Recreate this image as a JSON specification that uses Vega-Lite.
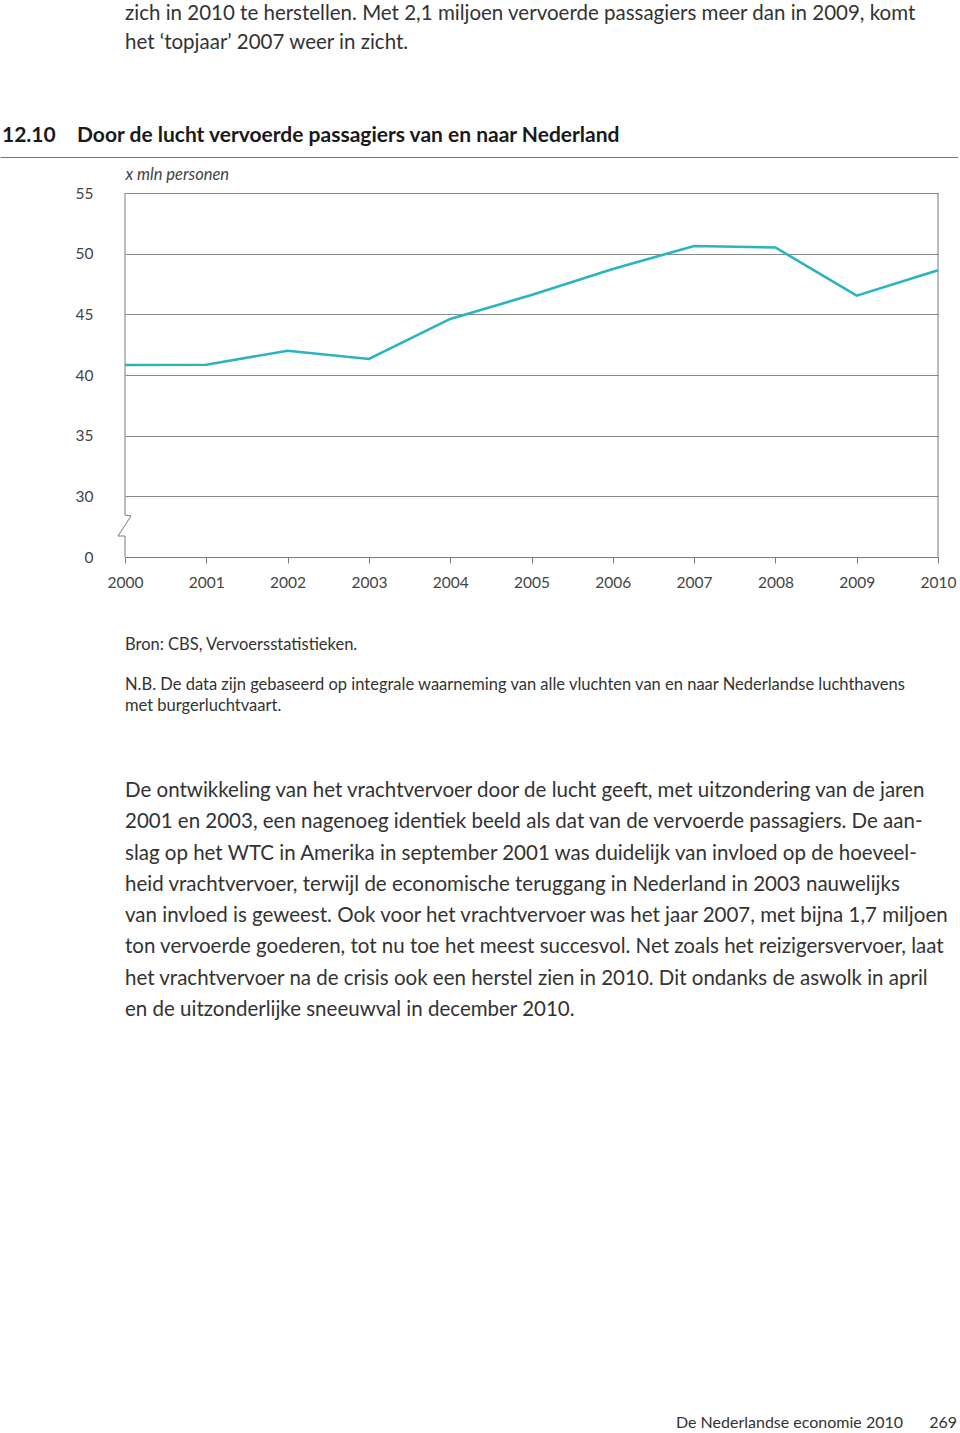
{
  "$schema": "https://vega.github.io/schema/vega-lite/v6.json",
  "background": "white",
  "padding": 0,
  "bounds": "flush",
  "spacing": 0,
  "config": {"view": {"stroke": null}, "font": "Lato"},
  "vconcat": [
    {
      "width": 813,
      "height": 193,
      "layer": [
        {
          "data": {"values": [
            {"line": 1, "text": "zich in 2010 te herstellen. Met 2,1 miljoen vervoerde passagiers meer dan in 2009, komt"},
            {"line": 2, "text": "het ‘topjaar’ 2007 weer in zicht."}
          ]},
          "mark": {"type": "text", "align": "left", "baseline": "alphabetic", "fontSize": 20.5, "color": "#333333", "font": "Lato"},
          "encoding": {
            "x": {"value": 0},
            "y": {"field": "line", "type": "quantitative", "scale": {"domain": [1, 2], "range": [19.5, 49]}, "axis": null},
            "text": {"field": "text"}
          }
        },
        {
          "data": {"values": [{"label": "12.10"}]},
          "mark": {"type": "text", "align": "left", "baseline": "alphabetic", "fontSize": 21, "fontWeight": "bold", "color": "#1a1a1a", "font": "Lato"},
          "encoding": {"x": {"value": -123}, "y": {"value": 142}, "text": {"field": "label"}}
        },
        {
          "data": {"values": [{"label": "Door de lucht vervoerde passagiers van en naar Nederland"}]},
          "mark": {"type": "text", "align": "left", "baseline": "alphabetic", "fontSize": 21, "fontWeight": "bold", "color": "#1a1a1a", "font": "Lato"},
          "encoding": {"x": {"value": -48}, "y": {"value": 142}, "text": {"field": "label"}}
        },
        {
          "data": {"values": [{}]},
          "mark": {"type": "rule", "color": "#777777", "strokeWidth": 1},
          "encoding": {"x": {"value": -124.5}, "x2": {"value": 833}, "y": {"value": 157.5}}
        }
      ]
    },
    {
      "width": 813,
      "height": 364,
      "layer": [
        {
          "data": {"values": [
            {"i": 1, "year": 2000, "passengers": 55},
            {"i": 2, "year": 2000, "passengers": 28.46},
            {"i": 3, "year": 2000.074, "passengers": 28.38},
            {"i": 4, "year": 1999.914, "passengers": 26.73},
            {"i": 5, "year": 2000, "passengers": 26.73},
            {"i": 6, "year": 2000, "passengers": 25}
          ]},
          "mark": {"type": "line", "color": "#7a7a7a", "strokeWidth": 1},
          "encoding": {
            "x": {
              "field": "year", "type": "quantitative",
              "scale": {"domain": [2000, 2010], "nice": false, "zero": false},
              "axis": {
                "title": null, "values": [2000, 2001, 2002, 2003, 2004, 2005, 2006, 2007, 2008, 2009, 2010],
                "format": "d", "grid": false, "domain": true, "domainColor": "#7a7a7a", "domainWidth": 1,
                "ticks": true, "tickColor": "#7a7a7a", "tickSize": 6, "tickWidth": 1,
                "labelFontSize": 15.5, "labelColor": "#444444", "labelPadding": 12, "labelFont": "Lato",
                "labelFlush": false, "labelOverlap": false
              }
            },
            "y": {
              "field": "passengers", "type": "quantitative",
              "scale": {"domain": [25, 55], "nice": false, "zero": false},
              "axis": {
                "title": "x mln personen", "titleAngle": 0, "titleAlign": "left", "titleBaseline": "alphabetic",
                "titleX": 0, "titleY": -14, "titleFontStyle": "italic", "titleFontWeight": "normal",
                "titleFontSize": 16.5, "titleColor": "#444444", "titleFont": "Lato",
                "values": [25, 30, 35, 40, 45, 50, 55],
                "labelExpr": "datum.value == 25 ? '0' : datum.label",
                "grid": true, "gridColor": "#8a8a8a", "gridWidth": 1,
                "domain": false, "ticks": false, "labelPadding": 32,
                "labelFontSize": 15.5, "labelColor": "#444444", "labelFont": "Lato", "labelFlush": false
              }
            },
            "order": {"field": "i", "type": "quantitative"}
          }
        },
        {
          "data": {"values": [{}]},
          "mark": {"type": "rule", "color": "#7a7a7a", "strokeWidth": 1},
          "encoding": {"x": {"datum": 2010}, "y": {"datum": 25}, "y2": {"datum": 55}}
        },
        {
          "data": {"values": [
            {"year": 2000, "passengers": 40.82},
            {"year": 2001, "passengers": 40.85},
            {"year": 2002, "passengers": 42.0},
            {"year": 2003, "passengers": 41.32},
            {"year": 2004, "passengers": 44.62},
            {"year": 2005, "passengers": 46.59},
            {"year": 2006, "passengers": 48.74},
            {"year": 2007, "passengers": 50.63},
            {"year": 2008, "passengers": 50.51},
            {"year": 2009, "passengers": 46.54},
            {"year": 2010, "passengers": 48.63}
          ]},
          "mark": {"type": "line", "color": "#2ab4c0", "strokeWidth": 2.6},
          "encoding": {
            "x": {"field": "year", "type": "quantitative"},
            "y": {"field": "passengers", "type": "quantitative"}
          }
        }
      ]
    },
    {
      "width": 813,
      "height": 160,
      "data": {"values": [
        {"line": 1, "text": "Bron: CBS, Vervoersstatistieken."},
        {"line": 3, "text": "N.B. De data zijn gebaseerd op integrale waarneming van alle vluchten van en naar Nederlandse luchthavens"},
        {"line": 4, "text": "met burgerluchtvaart."}
      ]},
      "mark": {"type": "text", "align": "left", "baseline": "alphabetic", "fontSize": 16.5, "color": "#333333", "font": "Lato"},
      "encoding": {
        "x": {"value": 0},
        "y": {"field": "line", "type": "quantitative", "scale": {"domain": [1, 4], "range": [93, 153.5]}, "axis": null},
        "text": {"field": "text"}
      }
    },
    {
      "width": 813,
      "height": 313,
      "data": {"values": [
        {"line": 1, "text": "De ontwikkeling van het vrachtvervoer door de lucht geeft, met uitzondering van de jaren"},
        {"line": 2, "text": "2001 en 2003, een nagenoeg identiek beeld als dat van de vervoerde passagiers. De aan-"},
        {"line": 3, "text": "slag op het WTC in Amerika in september 2001 was duidelijk van invloed op de hoeveel-"},
        {"line": 4, "text": "heid vrachtvervoer, terwijl de economische teruggang in Nederland in 2003 nauwelijks"},
        {"line": 5, "text": "van invloed is geweest. Ook voor het vrachtvervoer was het jaar 2007, met bijna 1,7 miljoen"},
        {"line": 6, "text": "ton vervoerde goederen, tot nu toe het meest succesvol. Net zoals het reizigersvervoer, laat"},
        {"line": 7, "text": "het vrachtvervoer na de crisis ook een herstel zien in 2010. Dit ondanks de aswolk in april"},
        {"line": 8, "text": "en de uitzonderlijke sneeuwval in december 2010."}
      ]},
      "mark": {"type": "text", "align": "left", "baseline": "alphabetic", "fontSize": 20.5, "color": "#333333", "font": "Lato"},
      "encoding": {
        "x": {"value": 0},
        "y": {"field": "line", "type": "quantitative", "scale": {"domain": [1, 8], "range": [80, 299]}, "axis": null},
        "text": {"field": "text"}
      }
    },
    {
      "width": 813,
      "height": 403,
      "layer": [
        {
          "data": {"values": [{"text": "De Nederlandse economie 2010"}]},
          "mark": {"type": "text", "align": "right", "baseline": "alphabetic", "fontSize": 16, "color": "#333333", "font": "Lato"},
          "encoding": {"x": {"value": 778}, "y": {"value": 398}, "text": {"field": "text"}}
        },
        {
          "data": {"values": [{"text": "269"}]},
          "mark": {"type": "text", "align": "right", "baseline": "alphabetic", "fontSize": 16, "color": "#333333", "font": "Lato"},
          "encoding": {"x": {"value": 832}, "y": {"value": 398}, "text": {"field": "text"}}
        }
      ]
    }
  ]
}
